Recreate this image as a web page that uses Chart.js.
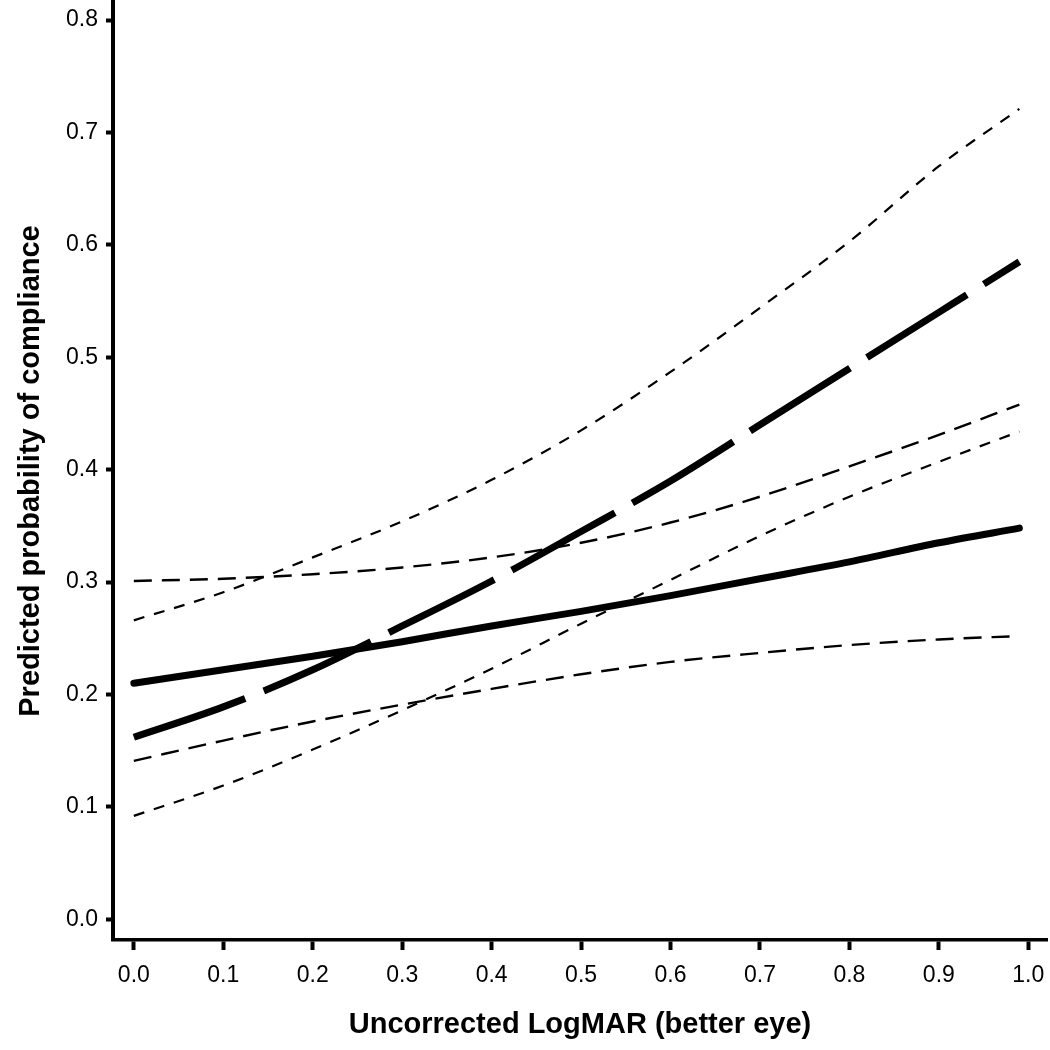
<!DOCTYPE html>
<html>
<head>
<meta charset="utf-8">
<script src="https://cdn.jsdelivr.net/npm/chart.js@4.4.1/dist/chart.umd.min.js"></script>
<style>
html,body{margin:0;padding:0;background:#fff;}
canvas{display:block;}
</style>
</head>
<body>
<canvas id="c" width="1050" height="1050"></canvas>
<script>
// x positions (Uncorrected LogMAR, better eye)
const xValues = [0, 0.1, 0.2, 0.3, 0.4, 0.5, 0.6, 0.7, 0.8, 0.9, 0.99];
// solid thick curve and its confidence band (medium dashes)
const solidFit   = [0.210, 0.222, 0.234, 0.247, 0.261, 0.274, 0.288, 0.303, 0.318, 0.335, 0.348];
const solidUpper = [0.301, 0.303, 0.307, 0.313, 0.322, 0.335, 0.353, 0.376, 0.403, 0.431, 0.458];
const solidLower = [0.141, 0.159, 0.176, 0.191, 0.205, 0.218, 0.229, 0.237, 0.244, 0.249, 0.252];
// dashed thick curve and its confidence band (short dashes)
const dashedFit   = [0.162, 0.189, 0.222, 0.261, 0.301, 0.345, 0.390, 0.440, 0.490, 0.540, 0.585];
const dashedUpper = [0.266, 0.291, 0.322, 0.354, 0.391, 0.435, 0.487, 0.544, 0.603, 0.670, 0.721];
const dashedLower = [0.092, 0.119, 0.151, 0.186, 0.223, 0.263, 0.302, 0.341, 0.376, 0.407, 0.434];
// ticks
const xTicks = [0, 0.1, 0.2, 0.3, 0.4, 0.5, 0.6, 0.7, 0.8, 0.9, 1.0];
const xTickLabels = ['0.0','0.1','0.2','0.3','0.4','0.5','0.6','0.7','0.8','0.9','1.0'];
const yTicks = [0, 0.1, 0.2, 0.3, 0.4, 0.5, 0.6, 0.7, 0.8];
const yTickLabels = ['0.0','0.1','0.2','0.3','0.4','0.5','0.6','0.7','0.8'];
const xTitle = 'Uncorrected LogMAR (better eye)';
const yTitle = 'Predicted probability of compliance';

const pts = arr => arr.map((v, i) => ({x: xValues[i], y: v}));
const FONT = "'Liberation Sans', Arial, Helvetica, sans-serif";

function ds(data, width, dash, cap) {
  return {
    data: pts(data),
    borderColor: '#000',
    borderWidth: width,
    borderDash: dash,
    borderCapStyle: cap,
    borderJoinStyle: 'round',
    pointRadius: 0,
    pointHoverRadius: 0,
    fill: false,
    cubicInterpolationMode: 'monotone'
  };
}

new Chart(document.getElementById('c'), {
  type: 'line',
  data: {
    datasets: [
      ds(dashedUpper, 2.2, [11, 10], 'butt'),
      ds(dashedLower, 2.2, [11, 10], 'butt'),
      ds(solidUpper, 2.4, [18, 10], 'butt'),
      ds(solidLower, 2.4, [18, 10], 'butt'),
      ds(solidFit, 7, [], 'round'),
      ds(dashedFit, 7, [118, 20], 'butt')
    ]
  },
  options: {
    responsive: false,
    animation: false,
    devicePixelRatio: 1,
    layout: { padding: { left: 0, right: 3, top: 2, bottom: 0 } },
    plugins: { legend: { display: false }, tooltip: { enabled: false } },
    scales: {
      x: {
        type: 'linear',
        min: -0.0233,
        max: 1.0209,
        afterBuildTicks: s => { s.ticks = xTicks.map(v => ({value: v})); },
        afterFit: s => { s.height = 110; s.paddingLeft = 0; s.paddingRight = 0; },
        ticks: {
          color: '#000',
          font: { family: FONT, size: 23 },
          padding: 12,
          maxRotation: 0,
          autoSkip: false,
          callback: (v, i) => xTickLabels[i]
        },
        grid: { drawOnChartArea: false, drawTicks: true, tickLength: 10, tickWidth: 4, tickColor: '#000' },
        border: { display: true, color: '#000', width: 3.5 },
        title: {
          display: true,
          text: xTitle,
          color: '#000',
          font: { family: FONT, size: 29, weight: 'bold' },
          padding: 8
        }
      },
      y: {
        type: 'linear',
        min: -0.0184,
        max: 0.8161,
        afterBuildTicks: s => { s.ticks = yTicks.map(v => ({value: v})); },
        afterFit: s => { s.width = 113; s.paddingTop = 0; s.paddingBottom = 0; },
        ticks: {
          color: '#000',
          font: { family: FONT, size: 23 },
          padding: 8,
          autoSkip: false,
          callback: (v, i) => yTickLabels[i]
        },
        grid: { drawOnChartArea: false, drawTicks: true, tickLength: 7, tickWidth: 4, tickColor: '#000' },
        border: { display: true, color: '#000', width: 4 },
        title: {
          display: true,
          text: yTitle,
          color: '#000',
          font: { family: FONT, size: 29, weight: 'bold' },
          padding: 14
        }
      }
    }
  }
});
</script>
</body>
</html>
